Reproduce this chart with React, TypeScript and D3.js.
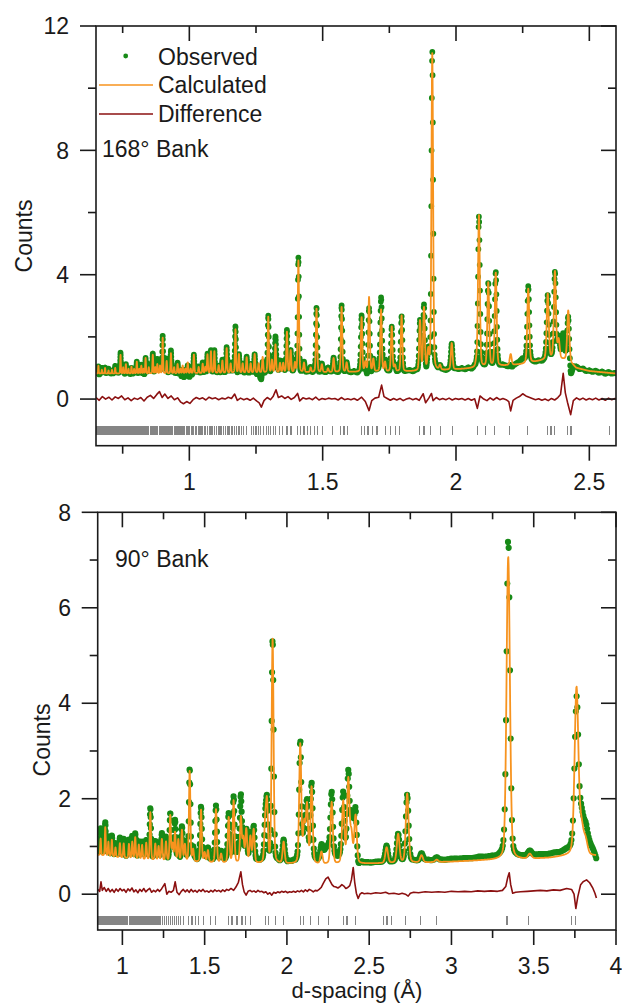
import React from 'react';
import * as d3 from 'd3';

const FONT = '"Liberation Sans", Arial, Helvetica, sans-serif';
const GREEN = '#178a17';
const ORANGE = '#f7931e';
const DRED = '#8b1010';
const GRAY = '#858585';
const INK = '#1a1a1a';

// ---------- 168° bank (top) ----------
const bgTop: [number, number][] = [[0.65,0.82],[0.9,0.82],[1.2,0.84],[1.5,0.86],[1.8,0.88],[1.95,0.92],[2.05,0.98],[2.15,1.05],[2.25,1.12],[2.3,1.2],[2.36,1.3],[2.42,1.25],[2.45,1.0],[2.5,0.9],[2.6,0.82]];
const peaksTop: [number, number][] = [
[0.659,0.25],[0.672,0.12],[0.684,0.18],[0.697,0.1],[0.710,0.12],[0.722,0.18],[0.742,0.6],[0.752,0.2],[0.762,0.3],[0.772,0.15],[0.783,0.22],[0.793,0.15],[0.803,0.38],[0.812,0.15],[0.820,0.25],[0.828,0.15],[0.836,0.5],[0.848,0.2],[0.863,0.6],[0.872,0.2],[0.880,0.3],[0.890,0.25],[0.900,1.15],[0.915,0.4],[0.931,0.65],[0.943,0.2],[0.956,0.3],[0.966,0.15],[0.975,0.25],[0.985,0.15],[0.994,0.35],[1.005,0.15],[1.017,0.6],[1.035,0.2],[1.050,0.3],[1.060,0.2],[1.068,0.6],[1.081,0.7],[1.094,0.7],[1.110,0.25],[1.124,0.4],[1.140,0.8],[1.155,0.3],[1.173,1.4],[1.186,0.6],[1.200,0.3],[1.215,0.5],[1.230,0.3],[1.245,0.6],[1.260,0.3],[1.275,0.5],[1.296,1.8],[1.310,0.4],[1.323,0.9],[1.340,0.3],[1.352,0.3],[1.366,1.3],[1.380,0.7],[1.396,0.3],[1.409,3.6],[1.430,0.3],[1.455,0.15],[1.477,2.05],[1.497,0.25],[1.520,0.12],[1.541,0.45],[1.571,2.1],[1.590,0.3],[1.646,1.75],[1.660,0.3],[1.674,2.4],[1.690,0.4],[1.719,2.0],[1.734,0.3],[1.759,1.45],[1.771,0.2],[1.796,1.8],[1.865,1.6],[1.880,2.0],[1.896,0.6],[1.911,10.2],[1.940,0.15],[1.984,0.85],[2.077,0.2],[2.086,4.9],[2.121,2.7],[2.149,3.0],[2.205,0.35],[2.271,2.4],[2.344,2.1],[2.371,2.8],[2.385,0.6],[2.421,1.6]
];
const diffTop: [number, number][] = [
[0.650,0.05],[0.662,-0.04],[0.674,0.08],[0.686,0.00],[0.698,0.06],[0.710,-0.03],[0.722,0.07],[0.734,0.02],[0.746,0.10],[0.758,-0.02],[0.770,0.04],[0.782,-0.05],[0.794,0.03],[0.806,-0.01],[0.818,0.05],[0.830,-0.06],[0.842,0.06],[0.854,0.12],[0.866,0.02],[0.878,0.15],[0.888,0.24],[0.898,0.05],[0.908,0.16],[0.920,0.02],[0.932,0.10],[0.944,-0.02],[0.956,0.04],[0.968,-0.10],[0.978,-0.15],[0.990,-0.08],[1.002,-0.14],[1.014,-0.02],[1.026,0.05],[1.038,0.00],[1.050,0.04],[1.062,-0.03],[1.074,0.06],[1.086,0.01],[1.098,0.04],[1.110,-0.02],[1.122,0.03],[1.134,0.00],[1.146,0.06],[1.158,0.02],[1.170,0.16],[1.180,-0.04],[1.192,0.03],[1.204,-0.02],[1.216,0.02],[1.228,-0.04],[1.240,0.03],[1.252,-0.06],[1.262,-0.12],[1.270,-0.26],[1.280,-0.05],[1.292,0.05],[1.304,-0.02],[1.314,0.08],[1.325,0.30],[1.334,0.05],[1.346,0.10],[1.358,0.02],[1.370,0.08],[1.382,-0.01],[1.394,0.05],[1.406,0.18],[1.414,-0.06],[1.426,0.04],[1.438,0.00],[1.450,0.03],[1.462,-0.02],[1.474,0.06],[1.486,-0.03],[1.498,0.02],[1.510,-0.01],[1.522,0.03],[1.534,0.00],[1.546,0.02],[1.558,-0.03],[1.570,0.05],[1.582,-0.02],[1.594,0.01],[1.606,-0.02],[1.618,0.02],[1.630,-0.04],[1.646,0.06],[1.660,-0.08],[1.674,-0.37],[1.684,-0.05],[1.696,0.03],[1.710,0.06],[1.721,0.45],[1.730,0.08],[1.742,0.02],[1.754,-0.04],[1.766,0.02],[1.778,-0.03],[1.790,0.02],[1.802,-0.05],[1.814,0.00],[1.826,0.03],[1.838,-0.02],[1.850,0.02],[1.862,-0.04],[1.877,0.17],[1.886,-0.12],[1.898,0.03],[1.908,0.18],[1.914,-0.05],[1.926,0.05],[1.938,-0.02],[1.950,0.02],[1.962,-0.02],[1.974,0.03],[1.986,-0.03],[1.998,0.02],[2.010,-0.01],[2.022,0.02],[2.034,-0.03],[2.046,0.02],[2.058,-0.04],[2.070,0.01],[2.080,-0.30],[2.090,0.10],[2.104,0.00],[2.116,-0.05],[2.128,0.04],[2.140,-0.03],[2.152,0.05],[2.164,-0.02],[2.176,0.02],[2.188,-0.02],[2.198,-0.08],[2.205,-0.38],[2.214,-0.04],[2.226,0.03],[2.238,0.08],[2.250,0.17],[2.262,0.10],[2.274,0.06],[2.286,0.02],[2.298,-0.02],[2.310,0.01],[2.322,-0.04],[2.334,0.00],[2.346,-0.05],[2.358,0.02],[2.370,-0.03],[2.382,0.05],[2.392,0.15],[2.402,0.83],[2.410,0.20],[2.418,-0.10],[2.430,-0.50],[2.440,-0.05],[2.452,0.04],[2.464,-0.02],[2.476,0.03],[2.488,-0.03],[2.500,0.02],[2.512,-0.02],[2.524,0.03],[2.536,-0.03],[2.548,0.02],[2.560,-0.04],[2.572,0.03],[2.584,-0.02],[2.596,0.02],[2.605,0.00]
];
const reflTop: number[] = [
0.651,0.654,0.657,0.661,0.664,0.667,0.671,0.674,0.677,0.681,0.684,0.688,0.691,0.694,0.698,0.701,0.704,0.708,0.711,0.715,0.718,0.721,0.725,0.728,0.731,0.735,0.738,0.742,0.745,0.748,0.752,0.755,0.759,0.762,0.765,0.769,0.772,0.776,0.779,0.782,0.786,0.789,0.793,0.796,0.799,0.803,0.806,0.810,0.813,0.816,0.820,0.823,0.827,0.830,0.834,0.837,0.841,0.844,0.848,
0.853,0.857,0.862,0.866,0.869,0.874,0.878,0.882,0.887,0.891,0.895,0.899,0.904,0.907,0.912,0.916,0.921,0.925,0.929,0.934,0.938,0.943,0.947,0.951,0.956,0.960,0.965,0.969,0.974,0.979,0.983,0.988,0.993,0.997,1.002,1.007,1.012,1.017,1.022,1.027,
1.033,1.038,1.044,1.050,1.056,1.062,1.068,1.075,1.081,1.087,1.094,1.101,1.108,1.115,1.122,1.129,1.137,1.145,1.152,1.160,1.168,1.176,1.186,1.195,1.204,1.214,
1.232,1.241,1.250,1.258,1.268,1.279,1.290,1.296,1.305,1.316,1.323,1.337,1.350,1.366,1.381,
1.406,1.418,1.430,1.443,1.455,1.468,1.481,1.499,1.538,1.567,1.580,1.592,
1.645,1.657,1.670,1.686,1.704,1.736,1.755,1.774,1.789,
1.863,1.880,1.905,1.943,1.988,2.080,2.111,2.143,2.201,2.269,2.343,2.356,2.369,2.419,2.431,2.576
];

// ---------- 90° bank (bottom) ----------
const bgBot: [number, number][] = [[0.85,0.82],[1.0,0.76],[1.2,0.7],[1.5,0.66],[1.8,0.64],[2.0,0.63],[2.3,0.62],[2.5,0.64],[2.8,0.66],[3.0,0.68],[3.2,0.71],[3.45,0.73],[3.6,0.76],[3.72,0.81],[3.9,0.8]];
const peaksBot: [number, number][] = [
[0.868,0.35],[0.896,0.6],[0.915,0.3],[0.936,0.35],[0.958,0.2],[0.985,0.3],[1.008,0.3],[1.040,0.3],[1.060,0.35],[1.078,0.45],[1.100,0.3],[1.120,0.3],[1.145,0.35],[1.170,1.0],[1.200,0.35],[1.220,0.3],[1.240,0.45],[1.265,0.4],[1.291,0.95],[1.305,0.35],[1.320,0.6],[1.340,0.45],[1.362,0.65],[1.380,0.35],[1.409,1.9],[1.430,0.25],[1.478,1.1],[1.500,0.2],[1.520,0.25],[1.569,1.12],[1.600,0.18],[1.646,0.95],[1.676,1.3],[1.720,0.95],[1.735,0.5],[1.753,0.7],[1.778,0.55],[1.798,0.7],[1.868,0.8],[1.879,1.2],[1.913,4.7],[1.980,0.45],[2.081,2.5],[2.105,0.8],[2.122,1.2],[2.150,1.6],[2.210,0.25],[2.272,1.3],[2.342,1.3],[2.373,1.75],[2.392,0.6],[2.417,1.0],[2.606,0.33],[2.676,0.6],[2.731,1.45],[2.818,0.15],[2.910,0.05],[3.345,6.35],[3.476,0.1],[3.760,3.5],[3.790,0.55],[3.815,0.3]
];
const diffBot: [number, number][] = [
[0.850,0.10],[0.862,0.06],[0.870,0.26],[0.878,0.08],[0.890,0.14],[0.902,0.06],[0.914,0.12],[0.926,0.05],[0.938,0.10],[0.950,0.04],[0.962,0.11],[0.974,0.06],[0.986,0.12],[0.998,0.07],[1.010,0.10],[1.022,0.04],[1.034,0.11],[1.046,0.07],[1.058,0.13],[1.070,0.05],[1.082,0.09],[1.094,0.03],[1.106,0.10],[1.118,0.06],[1.130,0.12],[1.142,0.05],[1.154,0.09],[1.166,0.12],[1.178,0.04],[1.190,0.08],[1.202,0.05],[1.214,0.10],[1.226,0.06],[1.238,0.11],[1.258,0.22],[1.270,0.00],[1.282,0.06],[1.296,0.04],[1.310,0.08],[1.321,0.26],[1.332,0.04],[1.345,-0.01],[1.358,0.06],[1.370,0.10],[1.382,0.05],[1.394,0.09],[1.406,0.04],[1.418,0.10],[1.430,0.05],[1.442,0.08],[1.454,0.04],[1.466,0.09],[1.478,0.06],[1.490,0.10],[1.502,0.05],[1.514,0.07],[1.526,0.04],[1.538,0.08],[1.550,0.05],[1.562,0.09],[1.574,0.06],[1.586,0.08],[1.598,0.05],[1.610,0.09],[1.622,0.06],[1.634,0.10],[1.646,0.08],[1.660,0.12],[1.676,0.08],[1.690,0.15],[1.705,0.25],[1.720,0.47],[1.730,0.20],[1.740,0.05],[1.752,-0.02],[1.764,0.06],[1.776,0.08],[1.788,0.05],[1.800,0.07],[1.812,0.04],[1.824,0.08],[1.836,0.05],[1.848,0.06],[1.860,0.03],[1.872,0.05],[1.884,0.00],[1.896,0.03],[1.908,-0.02],[1.920,0.04],[1.932,0.02],[1.944,0.05],[1.956,0.03],[1.968,0.06],[1.980,0.04],[1.992,0.06],[2.004,0.03],[2.016,0.05],[2.028,0.04],[2.040,0.06],[2.052,0.04],[2.064,0.07],[2.076,0.05],[2.088,0.08],[2.100,0.05],[2.112,0.09],[2.124,0.06],[2.136,0.10],[2.148,0.08],[2.160,0.05],[2.172,0.08],[2.184,0.07],[2.196,0.10],[2.208,0.14],[2.220,0.22],[2.236,0.32],[2.250,0.36],[2.262,0.28],[2.274,0.20],[2.286,0.16],[2.298,0.15],[2.310,0.13],[2.322,0.16],[2.334,0.20],[2.346,0.17],[2.358,0.12],[2.370,0.14],[2.382,0.18],[2.392,0.30],[2.403,0.56],[2.412,0.25],[2.422,0.02],[2.433,-0.09],[2.444,0.00],[2.456,0.03],[2.470,0.01],[2.490,0.02],[2.510,0.01],[2.540,0.03],[2.570,0.02],[2.600,0.04],[2.620,0.01],[2.650,0.02],[2.680,0.00],[2.700,0.02],[2.720,0.00],[2.737,-0.04],[2.750,0.02],[2.770,0.04],[2.800,0.03],[2.840,0.05],[2.880,0.04],[2.920,0.05],[2.960,0.04],[3.000,0.06],[3.040,0.05],[3.080,0.06],[3.120,0.05],[3.160,0.07],[3.200,0.06],[3.240,0.07],[3.280,0.06],[3.310,0.08],[3.330,0.16],[3.342,0.35],[3.351,0.45],[3.360,0.20],[3.372,0.02],[3.390,0.04],[3.420,0.05],[3.460,0.06],[3.500,0.07],[3.540,0.08],[3.580,0.07],[3.620,0.09],[3.660,0.08],[3.700,0.12],[3.730,0.10],[3.745,0.00],[3.756,-0.30],[3.768,-0.05],[3.785,0.20],[3.800,0.26],[3.821,0.30],[3.840,0.24],[3.860,0.12],[3.872,0.02],[3.881,-0.08]
];
const reflBot: number[] = [
0.856,0.862,0.868,0.874,0.880,0.886,0.892,0.898,0.904,0.910,0.916,0.922,0.928,0.934,0.940,0.946,0.952,0.958,0.964,0.970,0.976,0.982,0.988,0.994,1.000,1.006,1.012,1.018,1.024,1.030,
1.042,1.048,1.054,1.060,1.066,1.072,1.078,1.084,1.090,1.096,1.102,1.108,1.114,1.120,1.126,1.132,1.138,1.144,1.150,1.156,1.162,1.168,1.174,1.180,1.186,1.192,1.198,1.204,1.210,
1.222,1.234,1.246,1.258,1.270,1.282,1.294,1.306,1.318,1.330,1.342,1.355,1.370,
1.403,1.423,1.443,1.463,1.494,1.534,1.565,1.646,1.666,1.696,1.727,1.747,1.777,1.868,1.889,1.929,1.980,2.081,2.101,2.142,2.192,2.253,2.344,2.365,2.415,2.587,2.608,2.638,2.719,2.810,2.911,3.337,3.468,3.731,3.756
];

// axis ticks
const xMajorTop = [1, 1.5, 2, 2.5];
const xMinorTop = [0.75, 1.25, 1.75, 2.25];
const yMajorTop = [0, 4, 8, 12];
const yMinorTop = [2, 6, 10];
const xMajorBot = [1, 1.5, 2, 2.5, 3, 3.5, 4];
const xMinorBot = [1.25, 1.75, 2.25, 2.75, 3.25, 3.75];
const yMajorBot = [0, 2, 4, 6, 8];
const yMinorBot = [1, 3, 5, 7];

function makeProfile(peaks: [number, number][], res: number, eta: number, bgPts: [number, number][]) {
  const bg = d3.scaleLinear().domain(bgPts.map(p => p[0])).range(bgPts.map(p => p[1])).clamp(true);
  const k = 4 * Math.LN2;
  return (d: number) => {
    let s = bg(d);
    for (const [p, h] of peaks) {
      const w = res * p;
      const x = (d - p) / w;
      if (Math.abs(x) > 60) continue;
      s += h * ((1 - eta) * Math.exp(-k * x * x) + eta / (1 + 4 * x * x));
    }
    return s;
  };
}

function grid(d0: number, d1: number, ratio: number) {
  const out: number[] = [];
  for (let d = d0; d <= d1; d *= 1 + ratio) out.push(d);
  return out;
}

interface Cfg {
  id: string;
  left: number; right: number; top: number; bottom: number;
  xDom: [number, number]; yDom: [number, number];
  peaks: [number, number][]; bg: [number, number][]; diff: [number, number][]; refl: number[];
  res: number; eta: number; obsStep: number; calcStep: number; dStart: number; dEnd: number;
  reflY: number; r: number;
  xMaj: number[]; xMin: number[]; yMaj: number[]; yMin: number[];
  yLabelX: number; xLabelBase: number; countsX: number; countsY: number;
}

function Panel({ c }: { c: Cfg }) {
  const x = d3.scaleLinear().domain(c.xDom).range([c.left, c.right]);
  const y = d3.scaleLinear().domain(c.yDom).range([c.bottom, c.top]);
  const calcF = makeProfile(c.peaks, c.res, c.eta, c.bg);
  const diffF = d3.scaleLinear().domain(c.diff.map(p => p[0])).range(c.diff.map(p => p[1])).clamp(true);
  const obsD = grid(c.dStart, c.dEnd, c.obsStep);
  const calcD = grid(c.dStart, c.dEnd, c.calcStep);
  const line = d3.line<[number, number]>().x(p => x(p[0])).y(p => y(p[1]));
  const calcPath = line(calcD.map(d => [d, calcF(d)] as [number, number])) || '';
  const diffPath = line(c.diff) || '';
  const r = c.r;
  let dots = '';
  for (const d of obsD) {
    const px = x(d), py = y(calcF(d) + diffF(d));
    dots += `M${(px - r).toFixed(2)},${py.toFixed(2)}a${r},${r} 0 1,0 ${2 * r},0a${r},${r} 0 1,0 ${-2 * r},0`;
  }
  const ry = y(c.reflY);
  const sw = 1.6;
  return (
    <g>
      <defs>
        <clipPath id={c.id}>
          <rect x={c.left} y={c.top} width={c.right - c.left} height={c.bottom - c.top} />
        </clipPath>
      </defs>
      <g clipPath={`url(#${c.id})`}>
        <g shapeRendering="crispEdges">
          {c.refl.map((d, i) => (
            <line key={i} x1={x(d)} x2={x(d)} y1={ry - 4.5} y2={ry + 4.5} stroke={GRAY} strokeWidth={1.2} />
          ))}
        </g>
        <path d={diffPath} fill="none" stroke={DRED} strokeWidth={1.6} strokeLinejoin="round" />
        <path d={dots} fill={GREEN} />
        <path d={calcPath} fill="none" stroke={ORANGE} strokeWidth={1.8} strokeLinejoin="round" />
      </g>
      <rect x={c.left} y={c.top} width={c.right - c.left} height={c.bottom - c.top} fill="none" stroke={INK} strokeWidth={sw} />
      {c.xMaj.map(v => (
        <g key={'xM' + v}>
          <line x1={x(v)} x2={x(v)} y1={c.bottom} y2={c.bottom + 15} stroke={INK} strokeWidth={sw} />
          <line x1={x(v)} x2={x(v)} y1={c.top} y2={c.top + 15} stroke={INK} strokeWidth={sw} />
          <text x={x(v)} y={c.xLabelBase} textAnchor="middle" fontSize={23} fontFamily={FONT} fill={INK}>{String(v)}</text>
        </g>
      ))}
      {c.xMin.map(v => (
        <g key={'xm' + v}>
          <line x1={x(v)} x2={x(v)} y1={c.bottom} y2={c.bottom + 8} stroke={INK} strokeWidth={sw} />
          <line x1={x(v)} x2={x(v)} y1={c.top} y2={c.top + 7} stroke={INK} strokeWidth={sw} />
        </g>
      ))}
      {c.yMaj.map(v => (
        <g key={'yM' + v}>
          <line x1={c.left - 16} x2={c.left} y1={y(v)} y2={y(v)} stroke={INK} strokeWidth={sw} />
          <line x1={c.right - 15} x2={c.right} y1={y(v)} y2={y(v)} stroke={INK} strokeWidth={sw} />
          <text x={c.yLabelX} y={y(v) + 8.2} textAnchor="end" fontSize={23} fontFamily={FONT} fill={INK}>{String(v)}</text>
        </g>
      ))}
      {c.yMin.map(v => (
        <g key={'ym' + v}>
          <line x1={c.left - 8} x2={c.left} y1={y(v)} y2={y(v)} stroke={INK} strokeWidth={sw} />
          <line x1={c.right - 8} x2={c.right} y1={y(v)} y2={y(v)} stroke={INK} strokeWidth={sw} />
        </g>
      ))}
      <text transform={`translate(${c.countsX},${c.countsY}) rotate(-90)`} textAnchor="middle" fontSize={23} fontFamily={FONT} fill={INK}>Counts</text>
    </g>
  );
}

const topCfg: Cfg = {
  id: 'clipTop', left: 96, right: 616, top: 26, bottom: 445.7,
  xDom: [0.65, 2.6], yDom: [-1.5, 12],
  peaks: peaksTop, bg: bgTop, diff: diffTop, refl: reflTop,
  res: 0.0038, eta: 0.25, obsStep: 0.0005, calcStep: 0.00025, dStart: 0.645, dEnd: 2.61,
  reflY: -1.0, r: 2.9,
  xMaj: xMajorTop, xMin: xMinorTop, yMaj: yMajorTop, yMin: yMinorTop,
  yLabelX: 69, xLabelBase: 490, countsX: 32, countsY: 236,
};

const botCfg: Cfg = {
  id: 'clipBot', left: 97.7, right: 616, top: 512.3, bottom: 930,
  xDom: [0.85, 4.0], yDom: [-0.75, 8],
  peaks: peaksBot, bg: bgBot, diff: diffBot, refl: reflBot,
  res: 0.0072, eta: 0.25, obsStep: 0.0012, calcStep: 0.0005, dStart: 0.85, dEnd: 3.881,
  reflY: -0.55, r: 3.1,
  xMaj: xMajorBot, xMin: xMinorBot, yMaj: yMajorBot, yMin: yMinorBot,
  yLabelX: 71, xLabelBase: 974, countsX: 50, countsY: 740,
};

export default function App() {
  const t = { fontSize: 23, fontFamily: FONT, fill: INK } as const;
  return (
    <svg width={622} height={1006} style={{ position: 'absolute', left: 0, top: 0, background: '#fff' }}>
      <rect x={0} y={0} width={622} height={1006} fill="#fff" />
      <Panel c={topCfg} />
      <Panel c={botCfg} />
      <circle cx={125.7} cy={56} r={2.4} fill={GREEN} />
      <text x={158} y={65} {...t}>Observed</text>
      <line x1={99} x2={153} y1={85} y2={85} stroke={ORANGE} strokeWidth={1.6} />
      <text x={158} y={93.3} {...t}>Calculated</text>
      <line x1={99} x2={153} y1={114} y2={114} stroke={DRED} strokeWidth={1.4} />
      <text x={158} y={121.7} {...t}>Difference</text>
      <text x={102} y={156.7} {...t}>168° Bank</text>
      <text x={115} y={567.3} {...t}>90° Bank</text>
      <text x={357} y={998} textAnchor="middle" fontSize={22} fontFamily={FONT} fill={INK}>d-spacing (Å)</text>
    </svg>
  );
}
